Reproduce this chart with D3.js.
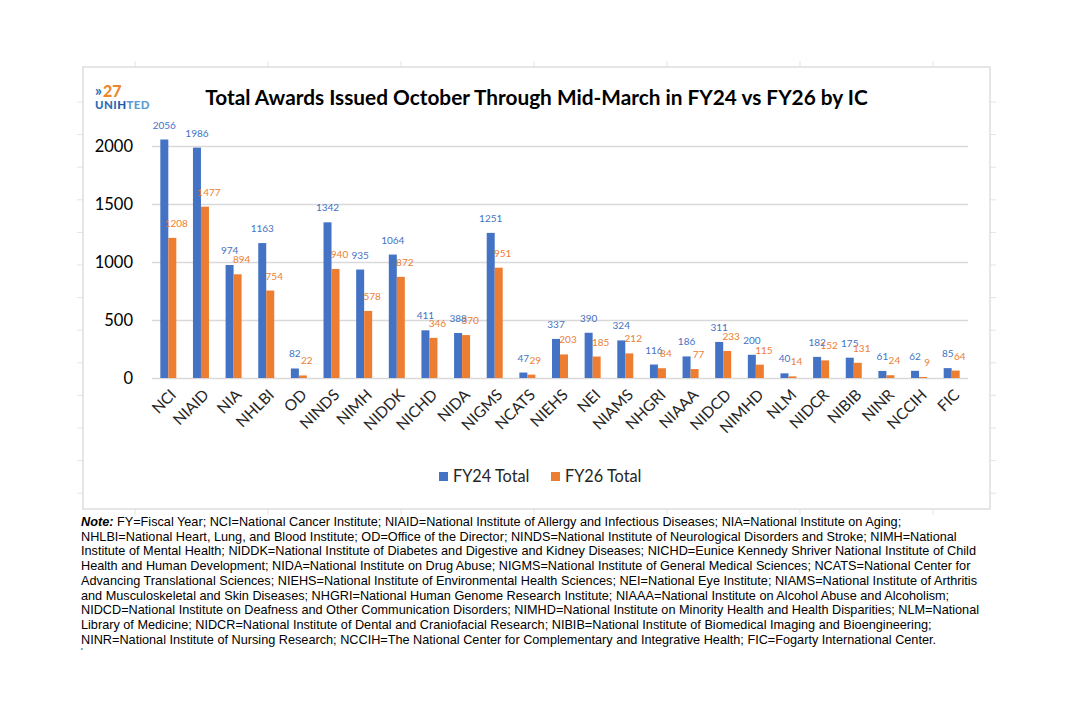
<!DOCTYPE html>
<html lang="en">
<head>
    <meta charset="UTF-8">
    <title>Total Awards Issued October Through Mid-March in FY24 vs FY26 by IC</title>
    <style>
        body {
            margin: 0;
            background-color: #ffffff;
        }

        .chart-font {
            font-family: Lato, "Open Sans", sans-serif;
        }

        .grid line {
            stroke: #d9d9d9;
            stroke-width: 1.3;
        }

        .note {
            font-family: "Liberation Sans", Arial, sans-serif;
            font-size: 12.7px;
            fill: #000;
        }
    </style>
    <script src="https://cdn.jsdelivr.net/npm/d3@7/dist/d3.min.js"></script>
</head>
<body>
<div id="awards"></div>

<script>
    // data
    var ics = ["NCI", "NIAID", "NIA", "NHLBI", "OD", "NINDS", "NIMH", "NIDDK", "NICHD", "NIDA",
        "NIGMS", "NCATS", "NIEHS", "NEI", "NIAMS", "NHGRI", "NIAAA", "NIDCD", "NIMHD", "NLM",
        "NIDCR", "NIBIB", "NINR", "NCCIH", "FIC"];
    var fy24 = [2056, 1986, 974, 1163, 82, 1342, 935, 1064, 411, 388,
        1251, 47, 337, 390, 324, 116, 186, 311, 200, 40,
        182, 175, 61, 62, 85];
    var fy26 = [1208, 1477, 894, 754, 22, 940, 578, 872, 346, 370,
        951, 29, 203, 185, 212, 84, 77, 233, 115, 14,
        152, 131, 24, 9, 64];
    var seriesNames = ["FY24 Total", "FY26 Total"];
    var yTicks = [0, 500, 1000, 1500, 2000];

    var titleText = "Total Awards Issued October Through Mid-March in FY24 vs FY26 by IC";
    var noteLines = [
        "FY=Fiscal Year; NCI=National Cancer Institute; NIAID=National Institute of Allergy and Infectious Diseases; NIA=National Institute on Aging;",
        "NHLBI=National Heart, Lung, and Blood Institute; OD=Office of the Director; NINDS=National Institute of Neurological Disorders and Stroke; NIMH=National",
        "Institute of Mental Health; NIDDK=National Institute of Diabetes and Digestive and Kidney Diseases; NICHD=Eunice Kennedy Shriver National Institute of Child",
        "Health and Human Development; NIDA=National Institute on Drug Abuse; NIGMS=National Institute of General Medical Sciences; NCATS=National Center for",
        "Advancing Translational Sciences; NIEHS=National Institute of Environmental Health Sciences; NEI=National Eye Institute; NIAMS=National Institute of Arthritis",
        "and Musculoskeletal and Skin Diseases; NHGRI=National Human Genome Research Institute; NIAAA=National Institute on Alcohol Abuse and Alcoholism;",
        "NIDCD=National Institute on Deafness and Other Communication Disorders; NIMHD=National Institute on Minority Health and Health Disparities; NLM=National",
        "Library of Medicine; NIDCR=National Institute of Dental and Craniofacial Research; NIBIB=National Institute of Biomedical Imaging and Bioengineering;",
        "NINR=National Institute of Nursing Research; NCCIH=The National Center for Complementary and Integrative Health; FIC=Fogarty International Center."
    ];

    var blue = "#4472C4";
    var orange = "#ED7D31";

    var width = 1080, height = 720;
    var frame = {left: 83, top: 67, right: 990, bottom: 509};
    var plot = {left: 152, right: 968, top: 88, bottom: 378};

    var svg = d3.select("#awards")
        .append("svg")
        .attr("width", width)
        .attr("height", height);

    // faint spreadsheet cell marks around the chart object
    var cellX = d3.range(135, frame.right, 133);
    var cellY = d3.range(102, frame.bottom, 32.6);
    var cells = svg.append("g").attr("stroke", "#e4e4e4").attr("stroke-width", 1);
    cellX.forEach(function (x) {
        cells.append("line").attr("x1", x).attr("x2", x).attr("y1", frame.top - 6).attr("y2", frame.top);
        cells.append("line").attr("x1", x).attr("x2", x).attr("y1", frame.bottom).attr("y2", frame.bottom + 6);
    });
    cellY.forEach(function (y) {
        cells.append("line").attr("x1", frame.left - 6).attr("x2", frame.left).attr("y1", y).attr("y2", y);
        cells.append("line").attr("x1", frame.right).attr("x2", frame.right + 6).attr("y1", y).attr("y2", y);
    });

    // chart border
    svg.append("rect")
        .attr("x", frame.left)
        .attr("y", frame.top)
        .attr("width", frame.right - frame.left)
        .attr("height", frame.bottom - frame.top)
        .attr("fill", "#fff")
        .attr("stroke", "#d9d9d9")
        .attr("stroke-width", 1.3);

    var x = d3.scaleBand()
        .domain(ics)
        .range([plot.left, plot.right])
        .paddingInner(0)
        .paddingOuter(0);

    var x1 = d3.scaleBand()
        .domain(seriesNames)
        .range([0, 16]);

    var y = d3.scaleLinear()
        .domain([0, 2500])
        .range([plot.bottom, plot.top]);

    // gridlines
    svg.append("g")
        .attr("class", "grid")
        .attr("transform", "translate(" + plot.left + ",0)")
        .call(d3.axisLeft(y).tickValues(yTicks).tickSize(-(plot.right - plot.left)).tickFormat(""))
        .call(function (g) { g.select(".domain").remove(); });

    // y axis labels
    svg.append("g")
        .attr("transform", "translate(" + (plot.left - 19) + ",0)")
        .call(d3.axisLeft(y).tickValues(yTicks).tickSize(0).tickFormat(d3.format("d")))
        .call(function (g) {
            g.select(".domain").remove();
            g.selectAll("text")
                .attr("x", 0)
                .attr("dy", "0.35em")
                .style("font-family", "Lato, 'Open Sans', sans-serif")
                .style("font-size", "16.5px")
                .style("fill", "#000");
        });

    var offset = (x.bandwidth() - 16) / 2;
    var series = [fy24, fy26];
    var colors = [blue, orange];
    var labelShift = [0, 4];

    series.forEach(function (vals, s) {
        var g = svg.append("g");
        g.selectAll("rect")
            .data(vals)
            .enter().append("rect")
            .attr("x", function (d, i) { return x(ics[i]) + offset + x1(seriesNames[s]); })
            .attr("y", function (d) { return y(d); })
            .attr("width", x1.bandwidth())
            .attr("height", function (d) { return y(0) - y(d); })
            .attr("fill", colors[s]);

        g.selectAll("text")
            .data(vals)
            .enter().append("text")
            .attr("class", "chart-font")
            .attr("x", function (d, i) {
                return x(ics[i]) + offset + x1(seriesNames[s]) + x1.bandwidth() / 2 + labelShift[s];
            })
            .attr("y", function (d) { return y(d) - 11; })
            .attr("text-anchor", "middle")
            .style("font-size", "10px")
            .style("fill", colors[s])
            .text(function (d) { return d; });
    });

    // x axis labels
    svg.append("g")
        .attr("transform", "translate(0," + plot.bottom + ")")
        .call(d3.axisBottom(x).tickSize(0))
        .call(function (g) {
            g.select(".domain").remove();
            g.selectAll("text")
                .attr("text-anchor", "end")
                .attr("transform", "translate(5,14) rotate(-45)")
                .attr("x", 0)
                .attr("y", 0)
                .attr("dy", "0.35em")
                .style("font-family", "Lato, 'Open Sans', sans-serif")
                .style("font-size", "15.5px")
                .style("fill", "#262626");
        });

    // title
    svg.append("text")
        .attr("class", "chart-font")
        .attr("x", 536.5)
        .attr("y", 105)
        .attr("text-anchor", "middle")
        .style("font-size", "20.8px")
        .style("font-weight", "bold")
        .style("fill", "#000")
        .text(titleText);

    // logo
    var logo = svg.append("g").attr("class", "chart-font").style("font-weight", "900");
    logo.append("text").attr("x", 95).attr("y", 96).style("font-size", "15px").style("fill", "#2e75b6").text("\u00bb");
    logo.append("text").attr("x", 103).attr("y", 97).style("font-size", "16px").style("fill", "#f0862a").text("27");
    var unihted = logo.append("text").attr("x", 95).attr("y", 109).style("font-size", "11.5px").style("letter-spacing", "0.4px");
    unihted.append("tspan").style("fill", "#2f6db5").text("UNI");
    unihted.append("tspan").style("fill", "#1f5aa6").text("H");
    unihted.append("tspan").style("fill", "#5b9bd5").text("TED");

    // legend
    var legend = svg.append("g").attr("class", "chart-font");
    var legendX = [439, 551];
    seriesNames.forEach(function (name, i) {
        legend.append("rect")
            .attr("x", legendX[i])
            .attr("y", 472)
            .attr("width", 9)
            .attr("height", 9)
            .attr("fill", colors[i]);
        legend.append("text")
            .attr("x", legendX[i] + 14)
            .attr("y", 482)
            .style("font-size", "16.3px")
            .style("fill", "#262626")
            .text(name);
    });

    // note below the chart
    var note = svg.append("g");
    noteLines.forEach(function (line, i) {
        var t = note.append("text")
            .attr("class", "note")
            .attr("x", 81)
            .attr("y", 526 + i * 14.7);
        if (i === 0) {
            t.append("tspan").style("font-weight", "bold").style("font-style", "italic").text("Note:");
            t.append("tspan").text(" " + line);
        } else {
            t.text(line);
        }
    });
    note.append("text")
        .attr("class", "note")
        .attr("x", 81)
        .attr("y", 654)
        .style("font-size", "9px")
        .text("'");
</script>
</body>
</html>
